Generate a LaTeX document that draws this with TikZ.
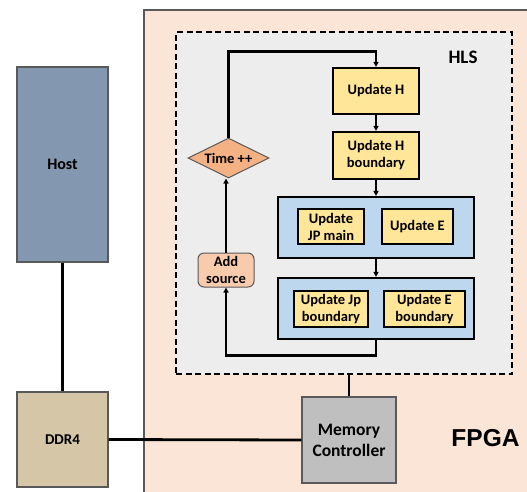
\documentclass[tikz,border=0pt]{standalone}
\usepackage{fontspec}
\setmainfont{Carlito}
\newfontfamily\arialfont{Liberation Sans}
\usetikzlibrary{shapes.geometric,arrows.meta}
\definecolor{fpgabg}{HTML}{FBE5D6}
\definecolor{hlsbg}{HTML}{EDEDED}
\definecolor{yel}{HTML}{FFE699}
\definecolor{blu}{HTML}{BDD7EE}
\definecolor{hostc}{HTML}{8497B0}
\definecolor{ddrc}{HTML}{D6C6A8}
\definecolor{memc}{HTML}{BFBFBF}
\definecolor{addc}{HTML}{F8CBAD}
\definecolor{timec}{HTML}{F4B183}
\definecolor{edgegray}{HTML}{595959}
\tikzset{
  ybox/.style={draw=black, line width=2.2pt, fill=yel, font=\bfseries\fontsize{14.5}{17}\selectfont, align=center, inner sep=0pt},
  bbox/.style={draw=black, line width=2.2pt, fill=blu, inner sep=0pt},
  conn/.style={line width=2.8pt, draw=black},
  arr/.style={conn, -{Triangle[length=5pt,width=5pt]}},
}
\begin{document}
\begin{tikzpicture}[x=1pt,y=-1pt]
\useasboundingbox (0,0) rectangle (527,491);
\fill[white] (0,0) rectangle (527,491);
% FPGA region
\draw[fill=fpgabg, draw=edgegray, line width=1.2pt] (144,495) -- (144,10) -- (530,10) -- (530,495);
\node[font=\arialfont\bfseries\fontsize{24.5}{26}\selectfont, anchor=center] (fpga) at (485.5,438) {FPGA};
% HLS region
\node[draw=black, dashed, dash pattern=on 6pt off 3.5pt, line width=2.2pt, fill=hlsbg, minimum width=336pt, minimum height=342pt, anchor=north west, inner sep=0pt] (hls) at (175,31) {};
\node[font=\bfseries\fontsize{19}{20}\selectfont] (hlst) at (463,57) {HLS};
% Yellow boxes
\node[ybox, minimum width=86pt, minimum height=46pt] (uh) at (376,91) {Update H};
\node[ybox, minimum width=86pt, minimum height=47pt] (uhb) at (376,155.5) {Update H\\boundary};
% Blue group 1
\node[bbox, minimum width=196pt, minimum height=61pt] (g1) at (376,227.5) {};
\node[ybox, minimum width=66pt, minimum height=35pt] (jpm) at (331,226.5) {Update\\JP main};
\node[ybox, minimum width=71pt, minimum height=35pt] (ue) at (417.5,226.5) {Update E};
% Blue group 2
\node[bbox, minimum width=196pt, minimum height=61pt] (g2) at (376,308.5) {};
\node[ybox, minimum width=74pt, minimum height=36pt] (jpb) at (331,309) {Update Jp\\boundary};
\node[ybox, minimum width=81pt, minimum height=36pt] (ueb) at (424.5,309) {Update E\\boundary};
% Add source and Time++
\node[draw=edgegray, line width=1pt, fill=addc, rounded corners=6pt, minimum width=56pt, minimum height=34pt, align=center, inner sep=0pt, font=\bfseries\fontsize{14.5}{17}\selectfont] (add) at (226,270) {Add\\source};
\node[diamond, draw=edgegray, line width=1pt, fill=timec, minimum width=81pt, minimum height=40pt, aspect=2, inner sep=0pt, font=\bfseries\fontsize{14.5}{16}\selectfont] (time) at (228.5,158) {Time ++};
% Connectors inside HLS
\draw[arr] (uh.south) -- (uhb.north);
\draw[arr] (uhb.south) -- (g1.north);
\draw[arr] (g1.south) -- (g2.north);
\draw[arr] (g2.south) -- ++(0,15) -| (add.south);
\draw[arr] (add.north) -- (add.north |- time.south);
\draw[arr] (time.north) -- ++(0,-86) -| (uh.north);
% Host, DDR4, Memory controller
\node[draw=edgegray, line width=1.2pt, fill=hostc, minimum width=91pt, minimum height=195pt, inner sep=0pt, font=\bfseries\fontsize{16}{18}\selectfont] (host) at (62.5,164.5) {Host};
\node[draw=edgegray, line width=1.2pt, fill=ddrc, minimum width=91pt, minimum height=95pt, inner sep=0pt, font=\bfseries\fontsize{15}{17}\selectfont] (ddr) at (62.5,439.5) {DDR4};
\node[draw=edgegray, line width=1.2pt, fill=memc, minimum width=94pt, minimum height=86pt, inner sep=0pt, align=center, font=\bfseries\fontsize{17.5}{21}\selectfont] (mc) at (349,440) {Memory\\Controller};
\draw[conn] (host.south) -- (ddr.north);
\draw[conn] (ddr.east) -- (mc.west);
\draw[conn] (hls.south -| mc.north) -- (mc.north);
\end{tikzpicture}
\end{document}
